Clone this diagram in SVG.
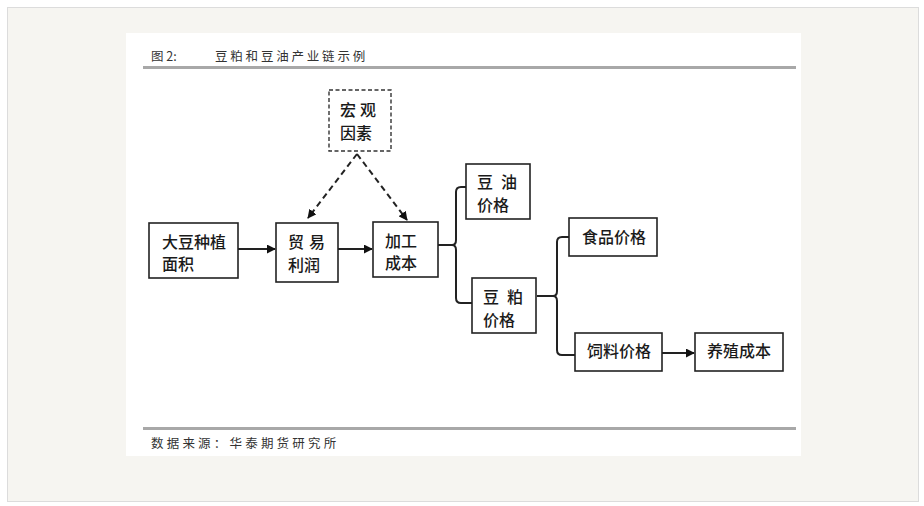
<svg xmlns="http://www.w3.org/2000/svg" width="924" height="506" viewBox="0 0 924 506">
<defs>
<style>
.box{fill:#fff;stroke:#222;stroke-width:1.6}
.dbox{fill:#fff;stroke:#333;stroke-width:1.4;stroke-dasharray:4 2.5}
.t{font-family:"Noto Sans CJK SC","Noto Sans",sans-serif;font-size:16px;font-weight:500;fill:#1a1a1a}
.ln{fill:none;stroke:#222;stroke-width:2}
.dash{fill:none;stroke:#222;stroke-width:2;stroke-dasharray:6 4}
.cap{font-family:"Noto Sans CJK SC","Noto Sans",sans-serif;font-size:12.5px;fill:#333}
</style>
<marker id="ah" viewBox="0 0 10 10" refX="9" refY="5" markerWidth="9" markerHeight="9" markerUnits="userSpaceOnUse" orient="auto">
<path d="M0,0 L10,5 L0,10 z" fill="#111"/>
</marker>
</defs>
<rect x="0" y="0" width="924" height="506" fill="#fff"/>
<rect x="7.5" y="7.5" width="911" height="494" fill="#f6f5f1" stroke="#dcdcdc" stroke-width="1"/>
<rect x="126" y="33" width="675" height="423" fill="#fff"/>
<text class="cap" x="151" y="61">图 2:</text>
<text class="cap" x="215" y="61" letter-spacing="2.8">豆粕和豆油产业链示例</text>
<rect x="143" y="66" width="653" height="3" fill="#a8a8a8"/>
<rect x="143" y="427" width="653" height="3" fill="#a8a8a8"/>
<text class="cap" x="151" y="448" letter-spacing="3.2">数据来源：华泰期货研究所</text>

<g id="connectors">
<line class="ln" x1="238" y1="249" x2="275" y2="249" marker-end="url(#ah)"/>
<line class="ln" x1="338" y1="249" x2="372" y2="249" marker-end="url(#ah)"/>
<line class="dash" x1="357" y1="154" x2="308" y2="218" marker-end="url(#ah)"/>
<line class="dash" x1="357" y1="154" x2="407" y2="220" marker-end="url(#ah)"/>
<path class="ln" d="M438,245 H452 Q456,245 456,240 V192 Q456,187 461,187 H466 M452,245 Q456,245 456,250 V298 Q456,303 461,303 H472"/>
<path class="ln" d="M537,296 H553 Q557,296 557,291 V242 Q557,237 562,237 H569 M553,296 Q557,296 557,301 V350 Q557,355 562,355 H575"/>
<line class="ln" x1="662" y1="353" x2="694" y2="353" marker-end="url(#ah)"/>
</g>

<g id="n-area"><rect class="box" x="149" y="223" width="89" height="55"/><text class="t" x="162" y="248">大豆种植</text><text class="t" x="162" y="270">面积</text></g>
<g id="n-trade"><rect class="box" x="276" y="223" width="62" height="59"/><text class="t" x="288" y="248" letter-spacing="5">贸易</text><text class="t" x="288" y="271">利润</text></g>
<g id="n-cost"><rect class="box" x="373" y="222" width="65" height="55"/><text class="t" x="385" y="247">加工</text><text class="t" x="385" y="269">成本</text></g>
<g id="n-macro"><rect class="dbox" x="329" y="90" width="62" height="61"/><text class="t" x="340" y="116" letter-spacing="4">宏观</text><text class="t" x="340" y="139">因素</text></g>
<g id="n-oil"><rect class="box" x="466" y="164" width="64" height="55"/><text class="t" x="477" y="188" letter-spacing="8">豆油</text><text class="t" x="477" y="211">价格</text></g>
<g id="n-meal"><rect class="box" x="472" y="278" width="64" height="55"/><text class="t" x="483" y="303" letter-spacing="8">豆粕</text><text class="t" x="483" y="326">价格</text></g>
<g id="n-food"><rect class="box" x="569" y="218" width="88" height="38"/><text class="t" x="582" y="243">食品价格</text></g>
<g id="n-feed"><rect class="box" x="575" y="333" width="87" height="38"/><text class="t" x="587" y="357">饲料价格</text></g>
<g id="n-breed"><rect class="box" x="695" y="333" width="88" height="38"/><text class="t" x="707" y="357">养殖成本</text></g>
</svg>
